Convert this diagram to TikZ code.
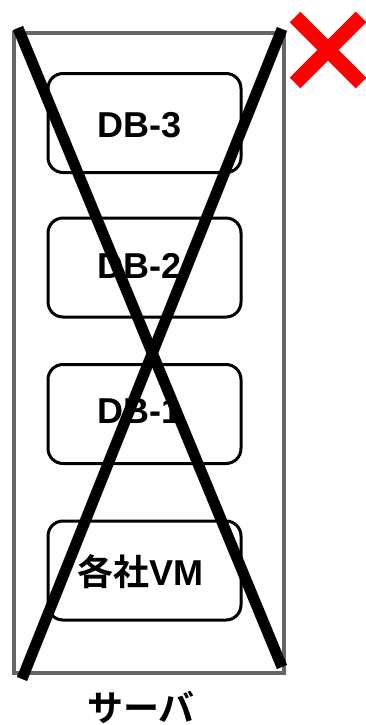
\documentclass[tikz,border=0pt]{standalone}
\usepackage{fontspec}
\setmainfont{Liberation Sans}
\newfontfamily\cjk{Noto Sans CJK JP}[BoldFont={Noto Sans CJK JP Bold}]
\begin{document}
\begin{tikzpicture}[x=1pt,y=-1pt,
  server/.style={draw=black!60,line width=3.5pt},
  dbbox/.style={draw=black,line width=3pt,rounded corners=15pt,fill=white,
    minimum width=193pt,minimum height=99pt,inner sep=0pt},
  dbtext/.style={anchor=base,inner sep=0pt,font=\fontsize{36}{40}\selectfont\bfseries},
  cross/.style={line width=11pt,black,line cap=butt},
  redx/.style={line width=15pt,red,line cap=butt}]
\useasboundingbox (0,0) rectangle (365,725);
\node[server,minimum width=270pt,minimum height=640pt,inner sep=0pt] (srv) at (149,353) {};
\node[dbbox] (db3) at (144.5,123) {};
\node[dbbox] (db2) at (144.5,267.5) {};
\node[dbbox] (db1) at (144.5,414) {};
\node[dbbox] (vm) at (144.5,570.5) {};
\node[dbtext] (db3t) at (140,137) {DB-3};
\node[dbtext] (db2t) at (140,278) {DB-2};
\node[dbtext] (db1t) at (140,423) {DB-1};
\node[dbtext] (vmt) at (140,585) {{\cjk\bfseries 各社}VM};
\node[font=\fontsize{36}{40}\selectfont\bfseries\cjk,inner sep=0pt] (lbl) at (141,707.5) {サーバ};
\coordinate (a1) at (18,28);
\coordinate (a2) at (282,667);
\coordinate (b1) at (282,29);
\coordinate (b2) at (22,679);
\draw[cross] (a1) -- (a2);
\draw[cross] (b1) -- (b2);
\coordinate (r1) at (295,17);
\coordinate (r2) at (361,83);
\coordinate (r3) at (361,17);
\coordinate (r4) at (295,83);
\draw[redx] (r1) -- (r2);
\draw[redx] (r3) -- (r4);
\end{tikzpicture}
\end{document}
